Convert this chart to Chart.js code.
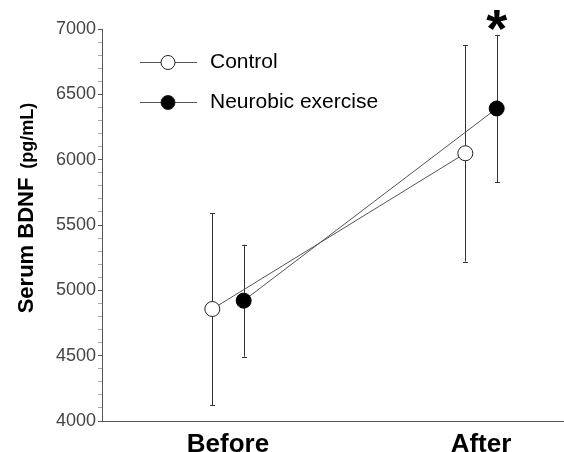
<!DOCTYPE html>
<html>
<head>
<meta charset="utf-8">
<script src="https://cdn.jsdelivr.net/npm/chart.js@4.4.0/dist/chart.umd.min.js"></script>
<style>
html,body{margin:0;padding:0;background:#fff;}
#wrap{width:564px;height:452px;position:relative;}
</style>
</head>
<body>
<div id="wrap"><canvas id="c" width="564" height="452"></canvas></div>
<script>
// ---- data ----
const categories = ['Before', 'After'];
const seriesNames = ['Control', 'Neurobic exercise'];
const controlMean = [4857, 6049];
const controlSD = [735, 829];
const neuroMean = [4921, 6392];
const neuroSD = [428, 563];
const yMin = 4000, yMax = 7000, yMajorStep = 500, yMinorStep = 100;
const significance = ['', '*'];   // marker above Neurobic exercise

// ---- styling / layout ----
const FONT = '"Liberation Sans", Arial, Helvetica, sans-serif';
const dodge = 0.062;
const lineColor = '#555';

function pts(means, off) {
  return means.map((m, i) => ({ x: i + off, y: m }));
}

const errorBars = {
  id: 'errorBars',
  beforeDatasetsDraw(chart) {
    const ctx = chart.ctx, ys = chart.scales.y;
    const sets = [[controlMean, controlSD], [neuroMean, neuroSD]];
    ctx.save();
    ctx.strokeStyle = '#333';
    ctx.lineWidth = 1;
    sets.forEach((s, di) => {
      const meta = chart.getDatasetMeta(di);
      s[0].forEach((m, i) => {
        const x = Math.round(meta.data[i].x) + 0.5;
        const t = ys.getPixelForValue(m + s[1][i]);
        const b = ys.getPixelForValue(m - s[1][i]);
        ctx.beginPath();
        ctx.moveTo(x, t); ctx.lineTo(x, b);
        ctx.moveTo(x - 2.5, Math.round(t) + 0.5); ctx.lineTo(x + 2.5, Math.round(t) + 0.5);
        ctx.moveTo(x - 2.5, Math.round(b) + 0.5); ctx.lineTo(x + 2.5, Math.round(b) + 0.5);
        ctx.stroke();
      });
    });
    ctx.restore();
  }
};

const extras = {
  id: 'extras',
  afterDraw(chart) {
    const ctx = chart.ctx, ys = chart.scales.y;
    ctx.save();
    // y-axis title
    const f1 = 'bold 22px ' + FONT, f2 = 'bold 18px ' + FONT;
    const t1 = 'Serum BDNF', t2 = '(pg/mL)';
    ctx.font = f1; const w1 = ctx.measureText(t1).width;
    ctx.font = f2; const w2 = ctx.measureText(t2).width;
    const gap = 9;
    const total = w1 + gap + w2;
    const cy = 208;
    ctx.translate(33, cy + total / 2);
    ctx.rotate(-Math.PI / 2);
    ctx.fillStyle = '#000';
    ctx.textBaseline = 'alphabetic';
    ctx.textAlign = 'left';
    ctx.font = f1; ctx.fillText(t1, 0, 0);
    ctx.font = f2; ctx.fillText(t2, w1 + gap, 0);
    ctx.restore();

    // significance asterisk
    ctx.save();
    const meta = chart.getDatasetMeta(1);
    significance.forEach((s, i) => {
      if (!s) return;
      ctx.font = 'bold 54px ' + FONT;
      ctx.fillStyle = '#000';
      ctx.textAlign = 'center';
      ctx.textBaseline = 'alphabetic';
      const m = ctx.measureText(s);
      const top = ys.getPixelForValue(neuroMean[i] + neuroSD[i]);
      const bottomTarget = top - 4;
      ctx.fillText(s, meta.data[i].x, bottomTarget - m.actualBoundingBoxDescent);
    });
    ctx.restore();

    // legend
    ctx.save();
    const items = [
      { label: seriesNames[0], fill: '#fff', y: 62 },
      { label: seriesNames[1], fill: '#000', y: 102 }
    ];
    items.forEach(it => {
      ctx.strokeStyle = lineColor; ctx.lineWidth = 1;
      ctx.beginPath(); ctx.moveTo(140, it.y + 0.5); ctx.lineTo(197, it.y + 0.5); ctx.stroke();
      ctx.beginPath(); ctx.arc(168, it.y + 0.5, 7, 0, Math.PI * 2);
      ctx.fillStyle = it.fill; ctx.fill();
      ctx.strokeStyle = '#222'; ctx.stroke();
      ctx.fillStyle = '#000';
      ctx.font = '21px ' + FONT;
      ctx.textBaseline = 'middle';
      ctx.textAlign = 'left';
      ctx.fillText(it.label, 210, it.y);
    });
    ctx.restore();
  }
};

new Chart(document.getElementById('c'), {
  type: 'line',
  data: {
    datasets: [
      {
        label: seriesNames[0],
        data: pts(controlMean, -dodge),
        borderColor: lineColor, borderWidth: 1,
        pointRadius: 7.5, pointHoverRadius: 7.5,
        pointBackgroundColor: '#fff', pointBorderColor: '#222', pointBorderWidth: 1,
        tension: 0, clip: false
      },
      {
        label: seriesNames[1],
        data: pts(neuroMean, dodge),
        borderColor: lineColor, borderWidth: 1,
        pointRadius: 7.5, pointHoverRadius: 7.5,
        pointBackgroundColor: '#000', pointBorderColor: '#000', pointBorderWidth: 1,
        tension: 0, clip: false
      }
    ]
  },
  options: {
    responsive: false,
    animation: false,
    events: [],
    layout: { autoPadding: false, padding: { top: 29, right: 0, left: 0, bottom: 0 } },
    plugins: { legend: { display: false }, tooltip: { enabled: false } },
    scales: {
      x: {
        type: 'linear',
        min: -0.498, max: 1.328,
        afterBuildTicks(scale) { scale.ticks = categories.map((c, i) => ({ value: i })); },
        afterFit(scale) { scale.height = 31; scale.paddingLeft = 0; scale.paddingRight = 0; },
        ticks: {
          autoSkip: false, maxRotation: 0, padding: 0,
          color: '#000',
          font: { family: FONT, size: 26, weight: 'bold' },
          callback: (v) => categories[v]
        },
        grid: { display: false },
        border: { display: true, color: lineColor, width: 1 }
      },
      y: {
        min: yMin, max: yMax,
        afterFit(scale) { scale.width = 102; },
        ticks: {
          stepSize: yMinorStep, autoSkip: false, padding: 2,
          color: '#444',
          font: { family: FONT, size: 18 },
          callback: (v) => (v % yMajorStep === 0 ? String(v) : '')
        },
        grid: {
          drawOnChartArea: false, tickLength: 4,
          tickColor: (c) => (c.tick && c.tick.value % yMajorStep === 0 ? '#555' : '#aaa')
        },
        border: { display: true, color: lineColor, width: 1 }
      }
    }
  },
  plugins: [errorBars, extras]
});
</script>
</body>
</html>
